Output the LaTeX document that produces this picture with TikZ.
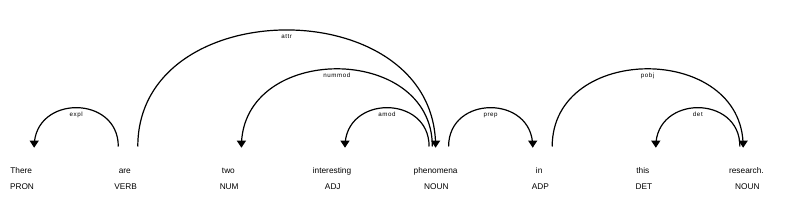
\documentclass[tikz,border=0pt]{standalone}
\usepackage{fontspec}
\setmainfont{Liberation Sans}
\tikzset{
  word/.style={anchor=base, inner sep=0pt, font=\fontsize{8.3}{10}\selectfont},
  tagtxt/.style={anchor=base, inner sep=0pt, font=\fontsize{8.3}{10}\selectfont},
  arcline/.style={draw=black, line width=1.2pt},
  arclabel/.style={pos=0.5, anchor=base, yshift=-8.7pt, inner sep=0pt,
    font=\fontsize{6.2}{7}\selectfont\addfontfeatures{LetterSpace=9}},
  tip/.style={fill=black}
}
% #1 name, #2 x start, #3 x end, #4 level, #5 label, #6 arrow end (s or e)
\newcommand\deparc[6]{%
  \coordinate (#1s) at (#2,146.5);
  \coordinate (#1e) at (#3,146.5);
  \draw[arcline] (#1s) .. controls +(0,{-51.8*#4}) and +(0,{-51.8*#4}) .. (#1e)
     node[arclabel] (#1l) {#5};
  \fill[tip] (#1#6) ++(-4.7,-5.9) -- ++(9.4,0) -- ++(-4.7,7.1) -- cycle;
}
\begin{document}
\begin{tikzpicture}[x=1pt,y=-1pt]
\fill[white] (0,0) rectangle (794,213);
\useasboundingbox (0,0) rectangle (794,213);
% words
\node[word] (w0) at (21.2,173.2) {There};
\node[word] (w1) at (124.8,173.2) {are};
\node[word] (w2) at (228.4,173.2) {two};
\node[word] (w3) at (332.0,173.2) {interesting};
\node[word] (w4) at (435.6,173.2) {phenomena};
\node[word] (w5) at (539.2,173.2) {in};
\node[word] (w6) at (642.8,173.2) {this};
\node[word] (w7) at (746.4,173.2) {research.};
% tags
\node[tagtxt] (t0) at (22.0,189.5) {PRON};
\node[tagtxt] (t1) at (125.6,189.5) {VERB};
\node[tagtxt] (t2) at (229.2,189.5) {NUM};
\node[tagtxt] (t3) at (332.8,189.5) {ADJ};
\node[tagtxt] (t4) at (436.4,189.5) {NOUN};
\node[tagtxt] (t5) at (540.4,189.5) {ADP};
\node[tagtxt] (t6) at (644.0,189.5) {DET};
\node[tagtxt] (t7) at (747.4,189.5) {NOUN};
% arcs
\deparc{expl}{34.2}{118.3}{1}{expl}{s}
\deparc{attr}{137.8}{435.6}{3}{attr}{e}
\deparc{nummod}{241.4}{432.35}{2}{nummod}{s}
\deparc{amod}{345.0}{429.1}{1}{amod}{s}
\deparc{prep}{448.6}{532.7}{1}{prep}{e}
\deparc{pobj}{552.2}{743.15}{2}{pobj}{e}
\deparc{det}{655.8}{739.9}{1}{det}{s}
\end{tikzpicture}
\end{document}
